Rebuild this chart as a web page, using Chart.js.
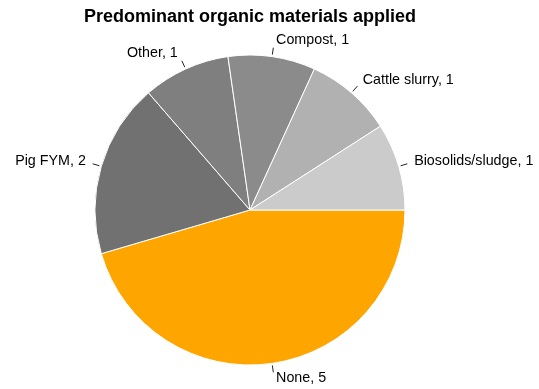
<!DOCTYPE html>
<html>
<head>
<meta charset="utf-8">
<script src="https://cdn.jsdelivr.net/npm/chart.js@4"></script>
<style>
  html, body { margin: 0; padding: 0; background: #ffffff; }
  #wrap { width: 539px; height: 389px; position: relative; }
</style>
</head>
<body>
<div id="wrap"><canvas id="chart" width="539" height="389"></canvas></div>
<script>
// Slices listed clockwise from 3 o'clock
const categories = ['None', 'Pig FYM', 'Other', 'Compost', 'Cattle slurry', 'Biosolids/sludge'];
const counts = [5, 2, 1, 1, 1, 1];
const sliceColors = ['#ffa500', '#717171', '#7f7f7f', '#8b8b8b', '#b1b1b1', '#cbcbcb'];
const chartTitle = 'Predominant organic materials applied';

const FONT = '"Liberation Sans", Arial, sans-serif';

// Outside labels with short leader lines
const outsideLabels = {
  id: 'outsideLabels',
  afterDatasetsDraw(chart) {
    const ctx = chart.ctx;
    const meta = chart.getDatasetMeta(0);
    ctx.save();
    ctx.font = '14.3px ' + FONT;
    ctx.fillStyle = '#000000';
    ctx.strokeStyle = '#222222';
    ctx.lineWidth = 1;
    meta.data.forEach((arc, i) => {
      const p = arc.getProps(['x', 'y', 'startAngle', 'endAngle', 'outerRadius'], true);
      const mid = (p.startAngle + p.endAngle) / 2;
      const c = Math.cos(mid), s = Math.sin(mid);
      const r1 = p.outerRadius + 2, r2 = p.outerRadius + 9;
      const x1 = p.x + c * r1, y1 = p.y + s * r1;
      const x2 = p.x + c * r2, y2 = p.y + s * r2;
      ctx.beginPath();
      ctx.moveTo(x1, y1);
      ctx.lineTo(x2, y2);
      ctx.stroke();
      const tx = x2 + (c >= 0 ? 1 : -1) * (2 + 5 * Math.abs(c));
      const ty = y2 + s * 7 - 1;
      ctx.textAlign = c >= 0 ? 'left' : 'right';
      ctx.textBaseline = 'middle';
      ctx.fillText(categories[i] + ', ' + counts[i], tx, ty);
    });
    ctx.restore();
  }
};

// Bold heading centred above the pie
const heading = {
  id: 'heading',
  afterDraw(chart) {
    const ctx = chart.ctx;
    ctx.save();
    ctx.font = 'bold 18px ' + FONT;
    ctx.fillStyle = '#000000';
    ctx.textAlign = 'center';
    ctx.textBaseline = 'middle';
    ctx.fillText(chartTitle, 250, 17);
    ctx.restore();
  }
};

new Chart(document.getElementById('chart'), {
  type: 'pie',
  data: {
    labels: categories,
    datasets: [{
      data: counts,
      backgroundColor: sliceColors,
      borderColor: '#ffffff',
      borderWidth: 1
    }]
  },
  options: {
    responsive: false,
    animation: false,
    rotation: 90,
    radius: 155,
    layout: { padding: { left: 95, right: 134, top: 55, bottom: 24 } },
    plugins: {
      legend: { display: false },
      title: { display: false },
      tooltip: { enabled: false }
    }
  },
  plugins: [outsideLabels, heading]
});
</script>
</body>
</html>
